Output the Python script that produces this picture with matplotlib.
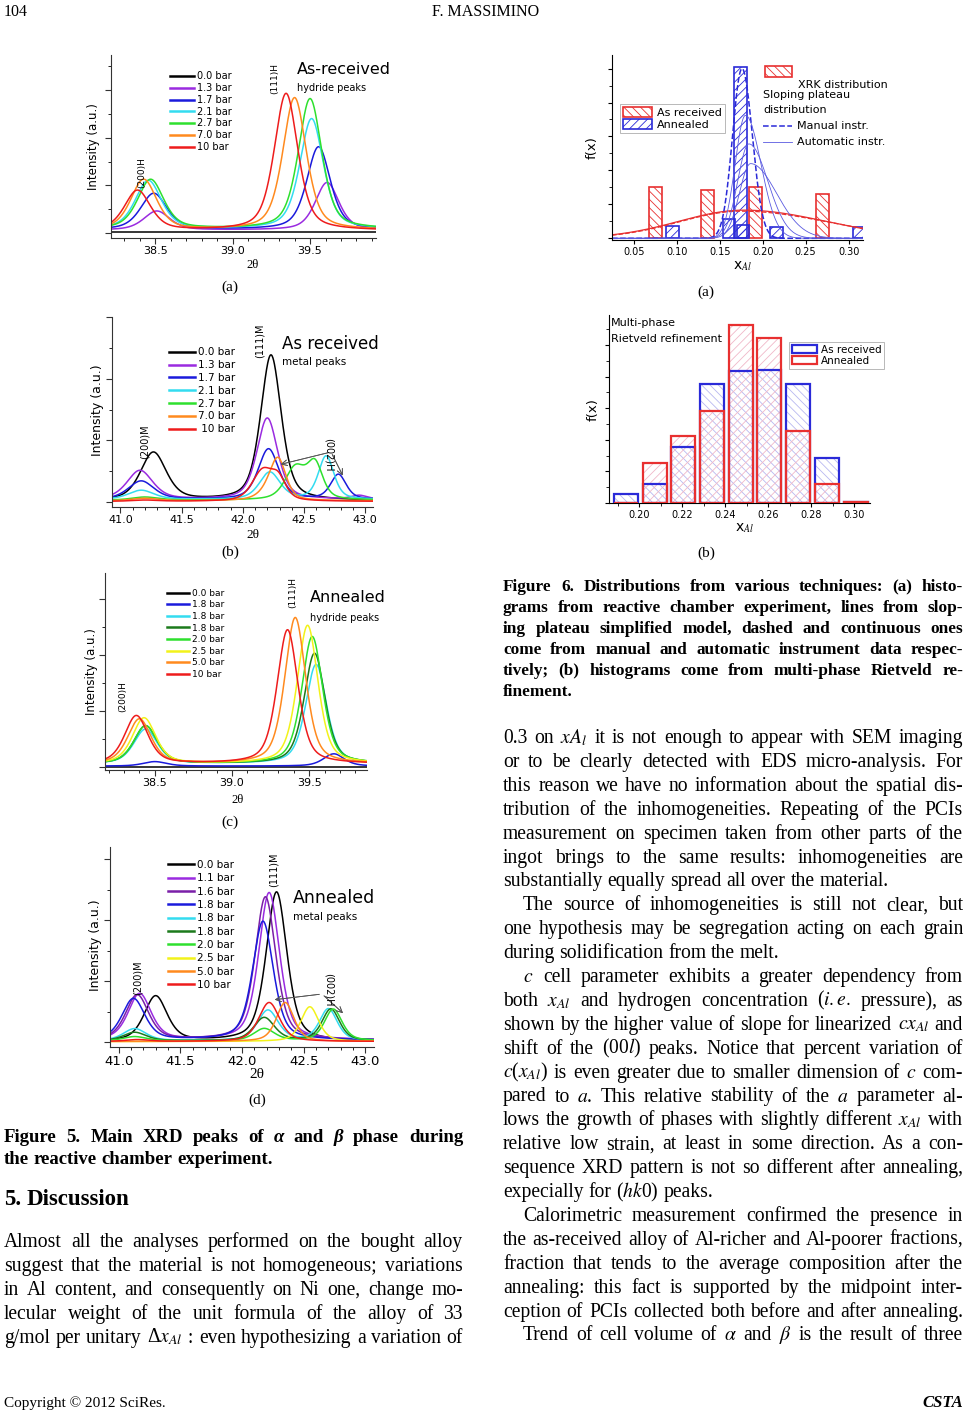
import numpy as np
import matplotlib.pyplot as plt
from matplotlib.patches import Patch, Rectangle
from matplotlib.lines import Line2D
from matplotlib.ticker import MultipleLocator, NullFormatter, FormatStrFormatter

plt.rcParams['mathtext.fontset'] = 'stix'
plt.rcParams['hatch.linewidth'] = 0.6
SANS = ['DejaVu Sans']
SERIF = ['Liberation Serif', 'DejaVu Serif']

# ---------------- data: Figure 5 (a) as received, hydride peaks ----------------
a_labels = ["0.0 bar", "1.3 bar", "1.7 bar", "2.1 bar", "2.7 bar", "7.0 bar", "10 bar"]
a_base = [0.02, 0.06, 0.07, 0.08, 0.08, 0.06, 0.05]
a_pos_200 = [38.45, 38.51, 38.49, 38.455, 38.47, 38.425, 38.385]
a_amp_200 = [0.0, 0.40, 0.76, 1.02, 1.04, 1.06, 0.84]
a_pos_111 = [39.5, 39.61, 39.555, 39.51, 39.50, 39.40, 39.345]
a_amp_111 = [0.0, 1.00, 1.74, 2.32, 2.74, 2.78, 2.88]

# ---------------- data: Figure 5 (b) as received, metal peaks ----------------
b_labels = ["0.0 bar", "1.3 bar", "1.7 bar", "2.1 bar", "2.7 bar", "7.0 bar", " 10 bar"]
b_base = [0.02, 0.04, 0.04, 0.04, 0.03, 0.02, 0.01]
b_pos_200 = [41.27, 41.16, 41.17, 41.17, 41.20, 41.20, 41.20]
b_amp_200 = [0.78, 0.47, 0.30, 0.15, 0.05, 0.04, 0.02]
b_pos_111 = [42.23, 42.20, 42.21, 42.22, 42.43, 42.22, 42.16]
b_amp_111 = [2.36, 1.32, 0.82, 0.44, 0.52, 0.15, 0.48]
b_pos_002 = [42.80, 42.95, 42.78, 42.68, 42.59, 42.29, 42.29]
b_amp_002 = [0.0, 0.06, 0.40, 0.70, 0.55, 0.60, 0.32]

# ---------------- data: Figure 5 (c) annealed, hydride peaks ----------------
c_labels = ["0.0 bar", "1.8 bar", "1.8 bar", "1.8 bar", "2.0 bar", "2.5 bar", "5.0 bar", "10 bar"]
c_base = [0.0, 0.01, 0.05, 0.05, 0.05, 0.05, 0.05, 0.05]
c_pos_200 = [38.45, 38.50, 38.44, 38.44, 38.44, 38.43, 38.40, 38.38]
c_amp_200 = [0.0, 0.08, 0.62, 0.68, 0.68, 0.82, 0.80, 0.86]
c_pos_111 = [39.5, 39.66, 39.545, 39.535, 39.52, 39.49, 39.41, 39.36]
c_amp_111 = [0.0, 0.22, 1.78, 1.98, 2.28, 2.48, 2.62, 2.40]

# ---------------- data: Figure 5 (d) annealed, metal peaks ----------------
d_labels = ["0.0 bar", "1.1 bar", "1.6 bar", "1.8 bar", "1.8 bar", "1.8 bar",
            "2.0 bar", "2.5 bar", "5.0 bar", "10 bar"]
d_base = [0.01, 0.03, 0.03, 0.03, 0.02, 0.02, 0.02, 0.01, 0.01, 0.01]
d_pos_200 = [41.30, 41.17, 41.15, 41.12, 41.13, 41.13, 41.13, 41.15, 41.15, 41.15]
d_amp_200 = [0.74, 0.76, 0.74, 0.68, 0.20, 0.14, 0.07, 0.0, 0.0, 0.03]
d_pos_111 = [42.28, 42.22, 42.19, 42.17, 42.21, 42.18, 42.18, 42.2, 42.2, 42.22]
d_amp_111 = [2.45, 2.42, 2.35, 1.95, 0.50, 0.38, 0.20, 0.0, 0.0, 0.64]
d_pos_002 = [42.7, 42.7, 42.7, 42.7, 42.70, 42.72, 42.74, 42.55, 42.35, 42.7]
d_amp_002 = [0.0, 0.0, 0.0, 0.0, 0.52, 0.52, 0.52, 0.57, 0.64, 0.0]

# ---------------- data: Figure 6 (a) distributions ----------------
f6a_recv_x = [0.075, 0.136, 0.192, 0.2695]
f6a_recv_h = [1.52, 1.41, 1.50, 1.31]
f6a_ann_x = [0.095, 0.161, 0.177, 0.1744, 0.216, 0.312]
f6a_ann_h = [0.36, 0.58, 0.39, 5.05, 0.34, 0.34]
# sloping plateau curves: centre, height, left width, right width
f6a_red_c = [0.178, 0.175]
f6a_red_h = [0.83, 0.80]
f6a_red_sl = [0.075, 0.072]
f6a_red_sr = [0.095, 0.100]
f6a_man_c, f6a_man_h, f6a_man_sl, f6a_man_sr = 0.176, 5.0, 0.011, 0.012
f6a_auto_c = [0.180, 0.184, 0.186]
f6a_auto_h = [3.62, 2.78, 2.20]
f6a_auto_sl = [0.012, 0.013, 0.013]
f6a_auto_sr = [0.018, 0.022, 0.030]

# ---------------- data: Figure 6 (b) Rietveld ----------------
f6b_x = [0.1939, 0.2074, 0.2206, 0.2340, 0.2474, 0.2606, 0.2740, 0.2875, 0.3009]
f6b_recv = [0.28, 0.61, 1.77, 3.76, 4.18, 4.21, 3.76, 1.42, 0.03]
f6b_ann = [0.0, 1.28, 2.13, 2.92, 5.63, 5.21, 2.28, 0.61, 0.02]

# ---------------- page text ----------------
l_caption = ["Figure 5. Main XRD peaks of ~\u03b1 and ~\u03b2 phase during",
             "the reactive chamber experiment."]
l_body = ["Almost all the analyses performed on the bought alloy",
          "suggest that the material is not homogeneous; variations",
          "in Al content, and consequently on Ni one, change mo-",
          "lecular weight of the unit formula of the alloy of 33",
          "g/mol per unitary \u0394$x_{Al}$ : even hypothesizing a variation of"]
r_caption = ["Figure 6. Distributions from various techniques: (a) histo-",
             "grams from reactive chamber experiment, lines from slop-",
             "ing plateau simplified model, dashed and continuous ones",
             "come from manual and automatic instrument data respec-",
             "tively; (b) histograms come from multi-phase Rietveld re-",
             "finement."]
r_body = ["0.3 on $xA_l$ it is not enough to appear with SEM imaging",
          "or to be clearly detected with EDS micro-analysis. For",
          "this reason we have no information about the spatial dis-",
          "tribution of the inhomogeneities. Repeating of the PCIs",
          "measurement on specimen taken from other parts of the",
          "ingot brings to the same results: inhomogeneities are",
          "substantially equally spread all over the material.",
          "The source of inhomogeneities is still not clear, but",
          "one hypothesis may be segregation acting on each grain",
          "during solidification from the melt.",
          "$c$ cell parameter exhibits a greater dependency from",
          "both $x_{Al}$ and hydrogen concentration ($\\mathit{i.e.}$ pressure), as",
          "shown by the higher value of slope for linearized $cx_{Al}$ and",
          "shift of the (00$l$) peaks. Notice that percent variation of",
          "$c$($x_{Al}$) is even greater due to smaller dimension of $c$ com-",
          "pared to $a$. This relative stability of the $a$ parameter al-",
          "lows the growth of phases with slightly different $x_{Al}$ with",
          "relative low strain, at least in some direction. As a con-",
          "sequence XRD pattern is not so different after annealing,",
          "expecially for ($hk$0) peaks.",
          "Calorimetric measurement confirmed the presence in",
          "the as-received alloy of Al-richer and Al-poorer fractions,",
          "fraction that tends to the average composition after the",
          "annealing: this fact is supported by the midpoint inter-",
          "ception of PCIs collected both before and after annealing.",
          "Trend of cell volume of $\\alpha$ and $\\beta$ is the result of three"]
r_par_start = [7, 10, 20, 25]
r_par_end = [6, 9, 19]

W, H = 969, 1414
fig = plt.figure(figsize=(W / 100, H / 100), dpi=100)
renderer = fig.canvas.get_renderer()


def fx(px):
    return px / W


def fy(py):
    return 1 - py / H


def box(l, t, r, b):
    return fig.add_axes([l / W, 1 - b / H, (r - l) / W, (b - t) / H])


def ftext(x, y, s, **kw):
    kw.setdefault('family', SANS)
    return fig.text(fx(x), fy(y), s, **kw)


def put_line(line, x0, x1, y, size, weight='normal', justify=True):
    words = line.split()
    objs, widths = [], []
    for w in words:
        style = 'normal'
        if w.startswith('~'):
            w, style = w[1:], 'italic'
        t = fig.text(0, fy(y), w, fontsize=size, fontweight=weight, fontstyle=style,
                     family=SERIF, va='baseline', ha='left')
        objs.append(t)
        widths.append(t.get_window_extent(renderer).width)
    gap = 0.25 * size * 100 / 72
    if justify and len(words) > 1:
        gap = (x1 - x0 - sum(widths)) / (len(words) - 1)
    x = x0
    for t, wd in zip(objs, widths):
        t.set_x(fx(x))
        x += wd + gap


def pv(x, pos, amp, w, eta=0.5):
    g = np.exp(-4 * np.log(2) * ((x - pos) / w) ** 2)
    lor = 1 / (1 + 4 * ((x - pos) / w) ** 2)
    return amp * (eta * lor + (1 - eta) * g)


def skew_gauss(x, c, h, sl, sr):
    s = np.where(x < c, sl, sr)
    return h * np.exp(-0.5 * ((x - c) / s) ** 2)


def xrd_axes(rect, xlim, ylim, tick_size):
    ax = box(*rect)
    ax.set_xlim(xlim)
    ax.set_ylim(ylim)
    for s in ['top', 'right']:
        ax.spines[s].set_visible(False)
    for s in ['left', 'bottom']:
        ax.spines[s].set_color('#333333')
        ax.spines[s].set_linewidth(0.8)
    ax.xaxis.set_major_locator(MultipleLocator(0.5))
    ax.xaxis.set_minor_locator(MultipleLocator(0.1))
    ax.xaxis.set_major_formatter(FormatStrFormatter('%.1f'))
    ax.yaxis.set_major_locator(MultipleLocator(1.0))
    ax.yaxis.set_minor_locator(MultipleLocator(0.5))
    ax.yaxis.set_major_formatter(NullFormatter())
    ax.tick_params(direction='out', labelsize=tick_size, length=4, width=0.8,
                   colors='#333333', labelcolor='black', pad=2)
    ax.tick_params(which='minor', length=2, width=0.6)
    for lab in ax.get_xticklabels():
        lab.set_family(SANS)
    ax.patch.set_alpha(0)
    return ax


def draw_xrd(ax, labels, colors, base, peaks, widths, eta, lw=1.1):
    xs = np.linspace(*ax.get_xlim(), 700)
    for i, lab in enumerate(labels):
        y = np.full_like(xs, base[i])
        for (pos, amp), w in zip(peaks, widths):
            y = y + pv(xs, pos[i], amp[i], w, eta)
        ax.plot(xs, y, color=colors[i], lw=lw, label=lab)


def xrd_legend(ax, anchor, size, spacing):
    leg = ax.legend(loc='upper left', bbox_to_anchor=anchor, frameon=False,
                    handlelength=2.5, handletextpad=0.3,
                    labelspacing=spacing, borderaxespad=0, borderpad=0,
                    prop={'family': SANS, 'size': size})
    for ln in leg.get_lines():
        ln.set_linewidth(1.8)
    return leg


BLACK, VIOLET, BLUE, CYAN = 'black', '#9a2be0', '#1a1adc', '#33dcf0'
GREEN, ORANGE, RED = '#2ee02e', '#ff8a1e', '#ee1c1c'
DKGREEN, YELLOW, PURPLE = '#1c7a1c', '#f2f21a', '#7a1fa8'

# ---------------- Figure 5 (a) ----------------
ax = xrd_axes((111, 55, 376, 238), (38.214, 39.926), (-0.105, 3.74), 8)
draw_xrd(ax, a_labels, [BLACK, VIOLET, BLUE, CYAN, GREEN, ORANGE, RED], a_base,
         [(a_pos_200, a_amp_200), (a_pos_111, a_amp_111)], [0.2, 0.18], 0.5)
xrd_legend(ax, (0.223, 0.91), 7, 0.18)
ftext(93, 147, "Intensity (a.u.)", fontsize=8.5, rotation=90, ha='center', va='center')
ftext(253, 265, "2\u03b8", fontsize=9, ha='center', va='center', family=SERIF)
ftext(142, 173, "(200)H", fontsize=6.5, rotation=90, ha='center', va='center')
ftext(275, 78, "(111)H", fontsize=6.5, rotation=90, ha='center', va='center')
ftext(297, 69, "As-received", fontsize=11.5, va='center')
ftext(297, 88, "hydride peaks", fontsize=7, va='center')
ftext(230, 287, "(a)", fontsize=11, ha='center', va='center', family=SERIF)

# ---------------- Figure 5 (b) ----------------
ax = xrd_axes((112, 317, 373, 507), (40.932, 43.063), (-0.08, 3.0), 8)
draw_xrd(ax, b_labels, [BLACK, VIOLET, BLUE, CYAN, GREEN, ORANGE, RED], b_base,
         [(b_pos_200, b_amp_200), (b_pos_111, b_amp_111), (b_pos_002, b_amp_002)],
         [0.25, 0.2, 0.15], 0.5)
xrd_legend(ax, (0.218, 0.84), 7.5, 0.27)
ftext(98, 410, "Intensity (a.u.)", fontsize=9, rotation=90, ha='center', va='center')
ftext(253, 535, "2\u03b8", fontsize=9.5, ha='center', va='center', family=SERIF)
ftext(145, 442, "(200)M", fontsize=7, rotation=90, ha='center', va='center')
ftext(260, 341, "(111)M", fontsize=7, rotation=90, ha='center', va='center')
ftext(329, 455, "(002)H", fontsize=7, rotation=270, ha='center', va='center')
ftext(282, 344, "As received", fontsize=12, va='center')
ftext(282, 362, "metal peaks", fontsize=7.5, va='center')
for tip in [(278, 465), (344, 478)]:
    fig.add_artist(plt.annotate("", xy=(fx(tip[0]), fy(tip[1])), xytext=(fx(331), fy(452)),
                                xycoords='figure fraction', textcoords='figure fraction',
                                arrowprops=dict(arrowstyle='->', color='#555555', lw=0.6)))
ftext(230, 552, "(b)", fontsize=11, ha='center', va='center', family=SERIF)

# ---------------- Figure 5 (c) ----------------
ax = xrd_axes((105, 573, 367, 770), (38.177, 39.875), (-0.06, 3.47), 8)
draw_xrd(ax, c_labels, [BLACK, BLUE, CYAN, DKGREEN, GREEN, YELLOW, ORANGE, RED], c_base,
         [(c_pos_200, c_amp_200), (c_pos_111, c_amp_111)], [0.18, 0.16], 0.5)
xrd_legend(ax, (0.235, 0.92), 6.5, 0.29)
ftext(92, 672, "Intensity (a.u.)", fontsize=8.5, rotation=90, ha='center', va='center')
ftext(238, 800, "2\u03b8", fontsize=9, ha='center', va='center', family=SERIF)
ftext(123, 697, "(200)H", fontsize=6.5, rotation=90, ha='center', va='center')
ftext(293, 592, "(111)H", fontsize=6.5, rotation=90, ha='center', va='center')
ftext(310, 597, "Annealed", fontsize=11.5, va='center')
ftext(310, 618, "hydride peaks", fontsize=7, va='center')
ftext(230, 822, "(c)", fontsize=11, ha='center', va='center', family=SERIF)

# ---------------- Figure 5 (d) ----------------
ax = xrd_axes((110, 847, 374, 1047), (40.93, 43.07), (-0.08, 3.2), 9.5)
draw_xrd(ax, d_labels, [BLACK, VIOLET, PURPLE, BLUE, CYAN, DKGREEN, GREEN, YELLOW, ORANGE, RED],
         d_base, [(d_pos_200, d_amp_200), (d_pos_111, d_amp_111), (d_pos_002, d_amp_002)],
         [0.22, 0.2, 0.17], 0.5)
xrd_legend(ax, (0.22, 0.935), 7.5, 0.32)
ftext(95, 945, "Intensity (a.u.)", fontsize=9, rotation=90, ha='center', va='center')
ftext(257, 1074, "2\u03b8", fontsize=11, ha='center', va='center', family=SERIF)
ftext(138, 978, "(200)M", fontsize=7, rotation=90, ha='center', va='center')
ftext(274, 870, "(111)M", fontsize=7, rotation=90, ha='center', va='center')
ftext(329, 990, "(002)H", fontsize=7, rotation=270, ha='center', va='center')
ftext(293, 898, "Annealed", fontsize=12.5, va='center')
ftext(293, 917, "metal peaks", fontsize=7.5, va='center')
for tip in [(272, 1000), (345, 1015)]:
    fig.add_artist(plt.annotate("", xy=(fx(tip[0]), fy(tip[1])), xytext=(fx(322), fy(994)),
                                xycoords='figure fraction', textcoords='figure fraction',
                                arrowprops=dict(arrowstyle='->', color='#555555', lw=0.6)))
ftext(257, 1100, "(d)", fontsize=11, ha='center', va='center', family=SERIF)

# ---------------- Figure 6 (a) ----------------
RB, BB = '#e83030', '#2a2ad8'
ax = box(612, 55, 863, 240)
ax.set_xlim(0.0248, 0.3167)
ax.set_ylim(-0.05, 5.4)
for s in ['top', 'right']:
    ax.spines[s].set_visible(False)
ax.bar(f6a_recv_x, f6a_recv_h, width=0.015, facecolor='white', edgecolor=RB,
       hatch='\\\\\\\\', lw=1.2, zorder=1)
ax.bar(f6a_ann_x, f6a_ann_h, width=0.0147, facecolor='none', edgecolor=BB,
       hatch='////', lw=1.2, zorder=1)
xs = np.linspace(0.0248, 0.3167, 600)
for c, h, sl, sr, ls in zip(f6a_red_c, f6a_red_h, f6a_red_sl, f6a_red_sr, ['-', '--']):
    ax.plot(xs, skew_gauss(xs, c, h, sl, sr), color=RB, lw=0.9, ls=ls, zorder=2)
ax.plot(xs, skew_gauss(xs, f6a_man_c, f6a_man_h, f6a_man_sl, f6a_man_sr), color=BB,
        lw=1.1, ls='--', zorder=2)
for c, h, sl, sr in zip(f6a_auto_c, f6a_auto_h, f6a_auto_sl, f6a_auto_sr):
    ax.plot(xs, skew_gauss(xs, c, h, sl, sr), color='#5a5ae0', lw=0.6, zorder=2)
ax.xaxis.set_major_locator(MultipleLocator(0.05))
ax.xaxis.set_major_formatter(FormatStrFormatter('%.2f'))
ax.yaxis.set_major_locator(MultipleLocator(1.0))
ax.yaxis.set_minor_locator(MultipleLocator(0.5))
ax.yaxis.set_major_formatter(NullFormatter())
ax.tick_params(direction='out', labelsize=7, length=3, width=0.8, pad=2)
ax.tick_params(which='minor', length=2)
leg = ax.legend(handles=[Patch(facecolor='white', edgecolor=RB, hatch='\\\\\\\\', lw=1.2, label='As received'),
                         Patch(facecolor='white', edgecolor=BB, hatch='////', lw=1.2, label='Annealed')],
                loc='upper left', bbox_to_anchor=(0.032, 0.735), borderaxespad=0, fancybox=False,
                edgecolor='#999999', prop={'family': SANS, 'size': 8}, handlelength=2.6,
                handleheight=0.9, labelspacing=0.15, borderpad=0.3, handletextpad=0.4)
leg.get_frame().set_linewidth(0.6)
fig.add_artist(Rectangle((fx(765), fy(77)), 27 / W, 11 / H, transform=fig.transFigure,
                         facecolor='white', edgecolor=RB, hatch='\\\\\\\\', lw=1.2))
ftext(798, 85, "XRK distribution", fontsize=8, va='center')
ftext(763, 95, "Sloping plateau", fontsize=8, va='center')
ftext(763, 110, "distribution", fontsize=8, va='center')
fig.add_artist(Line2D([fx(763), fx(792)], [fy(126), fy(126)], transform=fig.transFigure,
                      ls='--', color=BB, lw=1.1))
ftext(797, 126, "Manual instr.", fontsize=8, va='center')
fig.add_artist(Line2D([fx(763), fx(792)], [fy(142), fy(142)], transform=fig.transFigure,
                      color='#5a5ae0', lw=0.6))
ftext(797, 142, "Automatic instr.", fontsize=8, va='center')
ftext(592, 148, "f(x)", fontsize=9.5, rotation=90, ha='center', va='center')
ftext(743, 266, "x$_{Al}$", fontsize=10, ha='center', va='center')
ftext(706, 292, "(a)", fontsize=11, ha='center', va='center', family=SERIF)

# ---------------- Figure 6 (b) ----------------
ax = box(609, 315, 870, 503)
ax.set_xlim(0.186, 0.3074)
ax.set_ylim(0, 5.95)
for s in ['top', 'right']:
    ax.spines[s].set_visible(False)
BW = 0.0112
ax.bar(f6b_x, f6b_recv, width=BW, facecolor='white', edgecolor='#b8b8f0',
       hatch='\\\\\\\\', lw=0, zorder=1)
ax.bar(f6b_x, f6b_ann, width=BW, facecolor='none', edgecolor='#f0b8c8',
       hatch='////', lw=0, zorder=1)
ax.bar(f6b_x, f6b_recv, width=BW, fill=False, edgecolor=BB, lw=1.6, zorder=2,
       label='As received')
ax.bar(f6b_x, f6b_ann, width=BW, fill=False, edgecolor=RB, lw=1.6, zorder=3,
       label='Annealed')
ax.xaxis.set_major_locator(MultipleLocator(0.02))
ax.xaxis.set_minor_locator(MultipleLocator(0.01))
ax.xaxis.set_major_formatter(FormatStrFormatter('%.2f'))
ax.yaxis.set_major_locator(MultipleLocator(1.0))
ax.yaxis.set_minor_locator(MultipleLocator(0.5))
ax.yaxis.set_major_formatter(NullFormatter())
ax.tick_params(direction='out', labelsize=7, length=3, width=0.8, pad=2)
ax.tick_params(which='minor', length=2)
leg = ax.legend(loc='upper left', bbox_to_anchor=(0.69, 0.855), borderaxespad=0, fancybox=False,
                edgecolor='#999999', prop={'family': SANS, 'size': 7.5}, handlelength=2.4,
                handleheight=0.8, labelspacing=0.1, borderpad=0.25, handletextpad=0.4)
leg.get_frame().set_linewidth(0.6)
ftext(611, 323, "Multi-phase", fontsize=8, va='center')
ftext(611, 339, "Rietveld refinement", fontsize=8, va='center')
ftext(593, 410, "f(x)", fontsize=9.5, rotation=90, ha='center', va='center')
ftext(745, 528, "x$_{Al}$", fontsize=10, ha='center', va='center')
ftext(706, 553, "(b)", fontsize=11, ha='center', va='center', family=SERIF)

# ---------------- page text ----------------
ftext(4, 12, "104", fontsize=11.5, va='center', family=SERIF)
ftext(486, 12, "F. MASSIMINO", fontsize=11.5, ha='center', va='center', family=SERIF)

LX0, LX1, RX0, RX1 = 4, 463, 503, 963
for i, line in enumerate(l_caption):
    put_line(line, LX0, LX1, 1137 + 21.5 * i + 5, 13.5, 'bold', justify=(i == 0))
put_line("5. Discussion", LX0, LX1, 1199 + 6, 16.5, 'bold', justify=False)
for i, line in enumerate(l_body):
    put_line(line, LX0, LX1, 1242 + 23.9 * i + 5, 14.1)

for i, line in enumerate(r_caption):
    put_line(line, RX0, RX1, 587 + 20.8 * i + 4.5, 12.4, 'bold', justify=(i < len(r_caption) - 1))
for i, line in enumerate(r_body):
    x0 = RX0 + 20 if i in r_par_start else RX0
    put_line(line, x0, RX1, 738 + 23.9 * i + 5, 14.1, justify=(i not in r_par_end))

ftext(4, 1403, "Copyright \u00a9 2012 SciRes.", fontsize=11, va='center', family=SERIF)
ftext(963, 1403, "CSTA", fontsize=12, ha='right', va='center', family=SERIF,
      fontweight='bold', fontstyle='italic')

fig.savefig("out.png", dpi=100)
